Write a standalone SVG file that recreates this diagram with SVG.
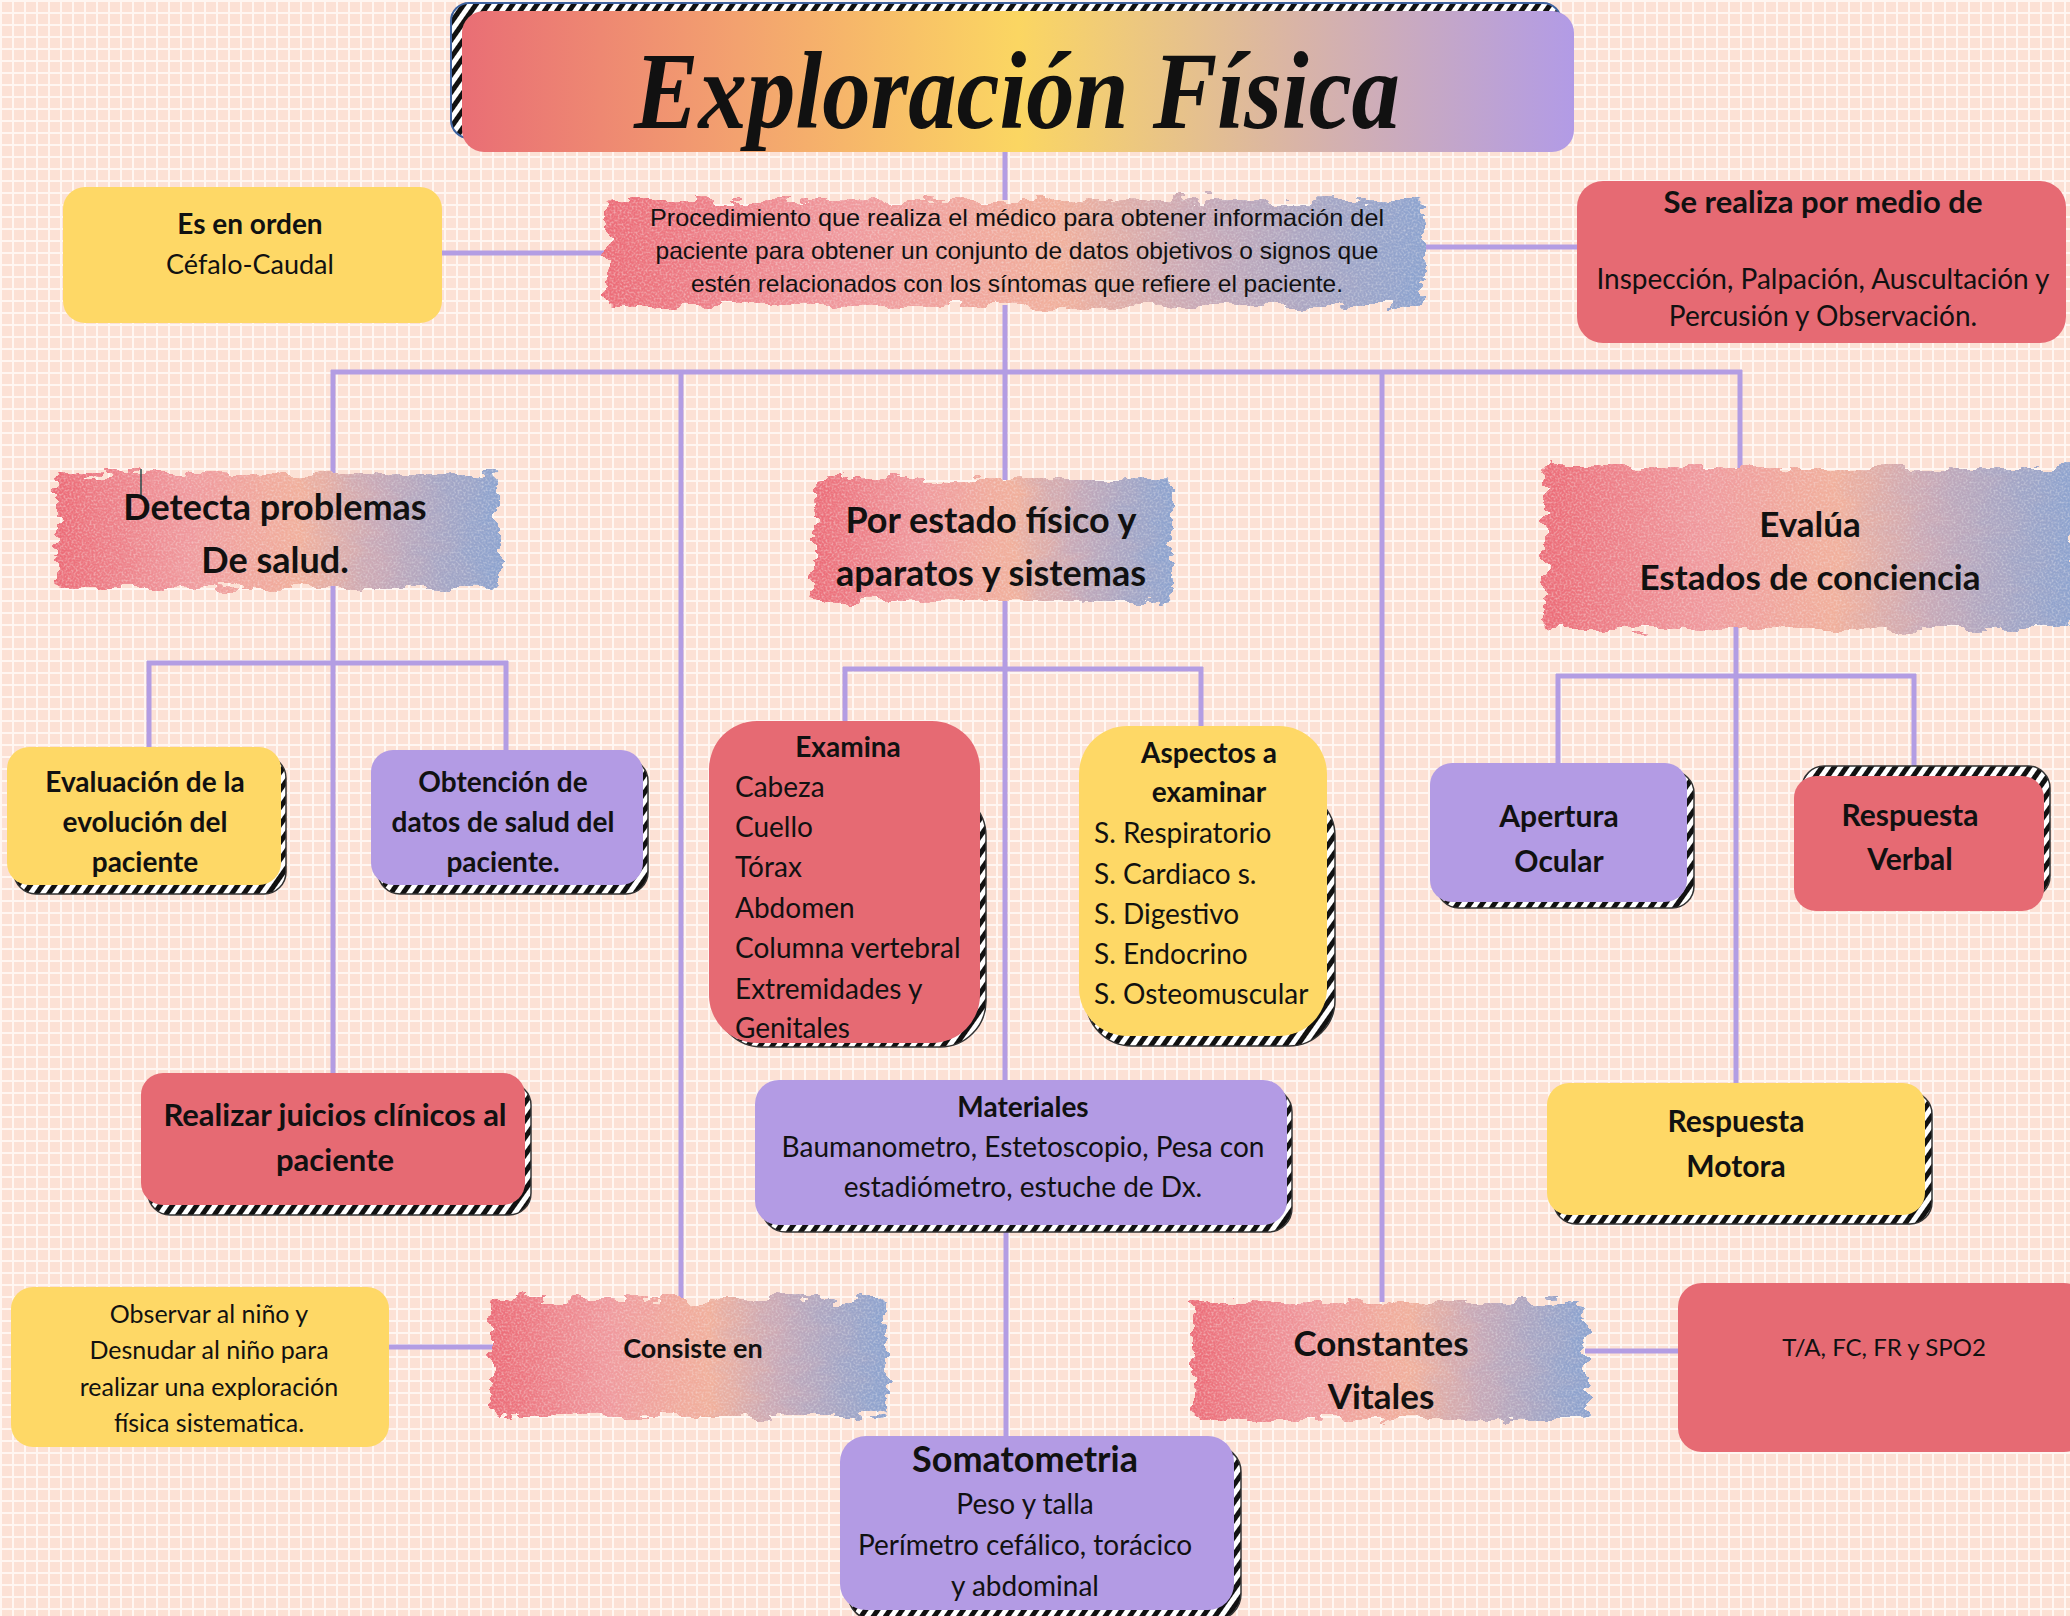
<svg xmlns="http://www.w3.org/2000/svg" width="2070" height="1616" viewBox="0 0 2070 1616">
<defs>
<pattern id="grid" width="12" height="12" patternUnits="userSpaceOnUse">
<rect width="12" height="12" fill="#FFF6F1"/>
<rect x="2" y="2" width="10" height="10" fill="#FCE1D5"/>
</pattern>
<pattern id="hatch" width="10" height="10" patternUnits="userSpaceOnUse" patternTransform="rotate(35)">
<rect width="10" height="10" fill="#ffffff"/>
<rect width="5" height="10" fill="#111111"/>
</pattern>
<linearGradient id="titleGrad" x1="0" y1="0" x2="1" y2="0">
<stop offset="0" stop-color="#E96E75"/>
<stop offset="0.25" stop-color="#F3A26F"/>
<stop offset="0.5" stop-color="#FBD662"/>
<stop offset="0.75" stop-color="#D9B4A6"/>
<stop offset="1" stop-color="#B29BE6"/>
</linearGradient>
<linearGradient id="wcGrad" x1="0" y1="0" x2="1" y2="0">
<stop offset="0" stop-color="#EC6C78"/>
<stop offset="0.3" stop-color="#F09A9E"/>
<stop offset="0.55" stop-color="#F1B09C"/>
<stop offset="0.72" stop-color="#C9A9B6"/>
<stop offset="1" stop-color="#8CA3CF"/>
</linearGradient>
<filter id="wc" x="-6%" y="-12%" width="112%" height="124%">
<feTurbulence type="fractalNoise" baseFrequency="0.035 0.08" numOctaves="3" seed="4" result="n"/>
<feDisplacementMap in="SourceGraphic" in2="n" scale="22" xChannelSelector="R" yChannelSelector="G" result="d"/>
<feTurbulence type="fractalNoise" baseFrequency="0.5" numOctaves="2" seed="7" result="grain"/>
<feColorMatrix in="grain" type="matrix" values="0 0 0 0 1  0 0 0 0 1  0 0 0 0 1  0.7 0 0 0 -0.3" result="g2"/>
<feComposite in="g2" in2="d" operator="in" result="g3"/>
<feMerge><feMergeNode in="d"/><feMergeNode in="g3"/></feMerge>
</filter>
<style>
.bg{fill:url(#grid)}
.con{stroke:#B39DE3;stroke-width:5;fill:none;stroke-linecap:butt}
.sh{fill:url(#hatch);stroke:#333;stroke-width:1.5}
.yel{fill:#FED866}
.red{fill:#E66A73}
.pur{fill:#B39BE4}
.wc{fill:url(#wcGrad);filter:url(#wc)}
text{font-family:Lato,"Liberation Sans",sans-serif;fill:#111;text-anchor:middle}
.b{font-weight:bold}
.l{text-anchor:start}
.desc{font-family:"Liberation Sans Narrow","Liberation Sans",sans-serif;font-size:24px}
</style>
</defs>
<rect class="bg" x="0" y="0" width="2070" height="1616"/>

<g id="connectors">
<line class="con" x1="1005" y1="150" x2="1005" y2="200"/>
<line class="con" x1="1005" y1="305" x2="1005" y2="374"/>
<line class="con" x1="331" y1="372" x2="1742" y2="372"/>
<line class="con" x1="333" y1="370" x2="333" y2="478"/>
<line class="con" x1="681" y1="370" x2="681" y2="1300"/>
<line class="con" x1="1005" y1="370" x2="1005" y2="480"/>
<line class="con" x1="1382" y1="370" x2="1382" y2="1302"/>
<line class="con" x1="1740" y1="370" x2="1740" y2="470"/>
<line class="con" x1="333" y1="585" x2="333" y2="1075"/>
<line class="con" x1="147" y1="663" x2="508" y2="663"/>
<line class="con" x1="149" y1="661" x2="149" y2="752"/>
<line class="con" x1="506" y1="661" x2="506" y2="753"/>
<line class="con" x1="1005" y1="598" x2="1005" y2="1083"/>
<line class="con" x1="843" y1="669" x2="1203" y2="669"/>
<line class="con" x1="845" y1="667" x2="845" y2="724"/>
<line class="con" x1="1201" y1="667" x2="1201" y2="729"/>
<line class="con" x1="1006" y1="1224" x2="1006" y2="1438"/>
<line class="con" x1="1736" y1="625" x2="1736" y2="1086"/>
<line class="con" x1="1556" y1="676" x2="1916" y2="676"/>
<line class="con" x1="1558" y1="674" x2="1558" y2="766"/>
<line class="con" x1="1914" y1="674" x2="1914" y2="781"/>
<line class="con" x1="441" y1="253" x2="612" y2="253"/>
<line class="con" x1="1420" y1="247" x2="1578" y2="247"/>
<line class="con" x1="388" y1="1347" x2="494" y2="1347"/>
<line class="con" x1="1585" y1="1351" x2="1680" y2="1351"/>
</g>

<g id="title">
<rect class="sh" x="451" y="3" width="1110" height="135" rx="18" style="stroke:#3F63A0;stroke-width:2"/>
<rect x="462" y="11" width="1112" height="141" rx="22" fill="url(#titleGrad)"/>
<text x="1017" y="128" class="b" style="font-family:'Liberation Serif',serif;font-style:italic;font-size:110px" textLength="766" lengthAdjust="spacingAndGlyphs">Exploración Física</text>
</g>

<g id="descripcion">
<rect class="wc" x="607" y="200" width="818" height="106" rx="6"/>
<text class="desc" x="1017" y="226" textLength="734" lengthAdjust="spacingAndGlyphs">Procedimiento que realiza el médico para obtener información del</text>
<text class="desc" x="1017" y="259" textLength="723" lengthAdjust="spacingAndGlyphs">paciente para obtener un conjunto de datos objetivos o signos que</text>
<text class="desc" x="1017" y="292" textLength="652" lengthAdjust="spacingAndGlyphs">estén relacionados con los síntomas que refiere el paciente.</text>
</g>

<g id="es-en-orden">
<rect class="yel" x="63" y="187" width="379" height="136" rx="22"/>
<text x="250" y="234" class="b" font-size="28">Es en orden</text>
<text x="250" y="274" font-size="27">Céfalo-Caudal</text>
</g>

<g id="se-realiza">
<rect class="red" x="1577" y="181" width="489" height="162" rx="26"/>
<text x="1823" y="213" class="b" font-size="31">Se realiza por medio de</text>
<text x="1823" y="289" font-size="28">Inspección, Palpación, Auscultación y</text>
<text x="1823" y="326" font-size="28">Percusión y Observación.</text>
</g>

<g id="detecta">
<rect class="wc" x="57" y="474" width="441" height="114" rx="6"/>
<line x1="141" y1="469" x2="141" y2="495" stroke="#2A4A4A" stroke-width="1.5"/>
<text x="275" y="520" class="b" font-size="36">Detecta problemas</text>
<text x="275" y="573" class="b" font-size="36">De salud.</text>
</g>

<g id="evaluacion">
<rect class="sh" x="14" y="756" width="272" height="138" rx="22"/>
<rect class="yel" x="7" y="747" width="274" height="138" rx="22"/>
<text x="145" y="792" class="b" font-size="28">Evaluación de la</text>
<text x="145" y="832" class="b" font-size="28">evolución del</text>
<text x="145" y="872" class="b" font-size="28">paciente</text>
</g>

<g id="obtencion">
<rect class="sh" x="378" y="759" width="270" height="135" rx="22"/>
<rect class="pur" x="371" y="750" width="272" height="135" rx="22"/>
<text x="503" y="792" class="b" font-size="28">Obtención de</text>
<text x="503" y="832" class="b" font-size="28">datos de salud del</text>
<text x="503" y="872" class="b" font-size="28">paciente.</text>
</g>

<g id="juicios">
<rect class="sh" x="148" y="1083" width="383" height="132" rx="22"/>
<rect class="red" x="141" y="1073" width="384" height="132" rx="22"/>
<text x="335" y="1126" class="b" font-size="31">Realizar juicios clínicos al</text>
<text x="335" y="1171" class="b" font-size="31">paciente</text>
</g>

<g id="por-estado">
<rect class="wc" x="814" y="478" width="358" height="123" rx="6"/>
<text x="991" y="533" class="b" font-size="36">Por estado físico y</text>
<text x="991" y="586" class="b" font-size="36">aparatos y sistemas</text>
</g>

<g id="examina">
<rect class="sh" x="716" y="790" width="270" height="257" rx="46"/>
<rect class="red" x="709" y="721" width="271" height="322" rx="48"/>
<text x="848" y="757" class="b" font-size="28">Examina</text>
<text x="735" y="797" class="l" font-size="28">Cabeza</text>
<text x="735" y="837" class="l" font-size="28">Cuello</text>
<text x="735" y="877" class="l" font-size="28">Tórax</text>
<text x="735" y="918" class="l" font-size="28">Abdomen</text>
<text x="735" y="958" class="l" font-size="28">Columna vertebral</text>
<text x="735" y="999" class="l" font-size="28">Extremidades y</text>
<text x="735" y="1038" class="l" font-size="28">Genitales</text>
</g>

<g id="aspectos">
<rect class="sh" x="1086" y="790" width="249" height="256" rx="46"/>
<rect class="yel" x="1079" y="726" width="248" height="310" rx="48"/>
<text x="1209" y="763" class="b" font-size="28">Aspectos a</text>
<text x="1209" y="802" class="b" font-size="28">examinar</text>
<text x="1094" y="843" class="l" font-size="28">S. Respiratorio</text>
<text x="1094" y="884" class="l" font-size="28">S. Cardiaco s.</text>
<text x="1094" y="924" class="l" font-size="28">S. Digestivo</text>
<text x="1094" y="964" class="l" font-size="28">S. Endocrino</text>
<text x="1094" y="1004" class="l" font-size="28">S. Osteomuscular</text>
</g>

<g id="materiales">
<rect class="sh" x="762" y="1088" width="530" height="144" rx="24"/>
<rect class="pur" x="755" y="1080" width="532" height="145" rx="24"/>
<text x="1023" y="1117" class="b" font-size="28">Materiales</text>
<text x="1023" y="1157" font-size="28">Baumanometro, Estetoscopio, Pesa con</text>
<text x="1023" y="1197" font-size="28">estadiómetro, estuche de Dx.</text>
</g>

<g id="somatometria">
<rect class="sh" x="848" y="1446" width="393" height="174" rx="26"/>
<rect class="pur" x="840" y="1436" width="394" height="174" rx="26"/>
<text x="1025" y="1472" class="b" font-size="36">Somatometria</text>
<text x="1025" y="1514" font-size="28">Peso y talla</text>
<text x="1025" y="1555" font-size="28">Perímetro cefálico, torácico</text>
<text x="1025" y="1596" font-size="28">y abdominal</text>
</g>

<g id="consiste">
<rect class="wc" x="492" y="1299" width="394" height="116" rx="6"/>
<text x="693" y="1358" class="b" font-size="27">Consiste en</text>
</g>

<g id="observar">
<rect class="yel" x="11" y="1287" width="378" height="160" rx="22"/>
<text x="209" y="1323" font-size="25">Observar al niño y</text>
<text x="209" y="1359" font-size="25">Desnudar al niño para</text>
<text x="209" y="1396" font-size="25">realizar una exploración</text>
<text x="209" y="1432" font-size="25">física sistematica.</text>
</g>

<g id="constantes">
<rect class="wc" x="1192" y="1302" width="394" height="118" rx="6"/>
<text x="1381" y="1356" class="b" font-size="35">Constantes</text>
<text x="1381" y="1409" class="b" font-size="35">Vitales</text>
</g>

<g id="ta">
<rect class="red" x="1678" y="1283" width="410" height="169" rx="24"/>
<text x="1884" y="1356" font-size="24">T/A, FC, FR y SPO2</text>
</g>

<g id="evalua">
<rect class="wc" x="1544" y="467" width="530" height="162" rx="6"/>
<text x="1810" y="537" class="b" font-size="35">Evalúa</text>
<text x="1810" y="590" class="b" font-size="35">Estados de conciencia</text>
</g>

<g id="apertura">
<rect class="sh" x="1437" y="771" width="257" height="137" rx="22"/>
<rect class="pur" x="1430" y="763" width="257" height="139" rx="22"/>
<text x="1559" y="827" class="b" font-size="30">Apertura</text>
<text x="1559" y="872" class="b" font-size="30">Ocular</text>
</g>

<g id="verbal">
<rect class="sh" x="1802" y="766" width="248" height="132" rx="22"/>
<rect class="red" x="1794" y="776" width="250" height="135" rx="22"/>
<text x="1910" y="826" class="b" font-size="30">Respuesta</text>
<text x="1910" y="870" class="b" font-size="30">Verbal</text>
</g>

<g id="motora">
<rect class="sh" x="1554" y="1092" width="378" height="132" rx="22"/>
<rect class="yel" x="1547" y="1083" width="378" height="132" rx="22"/>
<text x="1736" y="1132" class="b" font-size="30">Respuesta</text>
<text x="1736" y="1177" class="b" font-size="30">Motora</text>
</g>
</svg>
